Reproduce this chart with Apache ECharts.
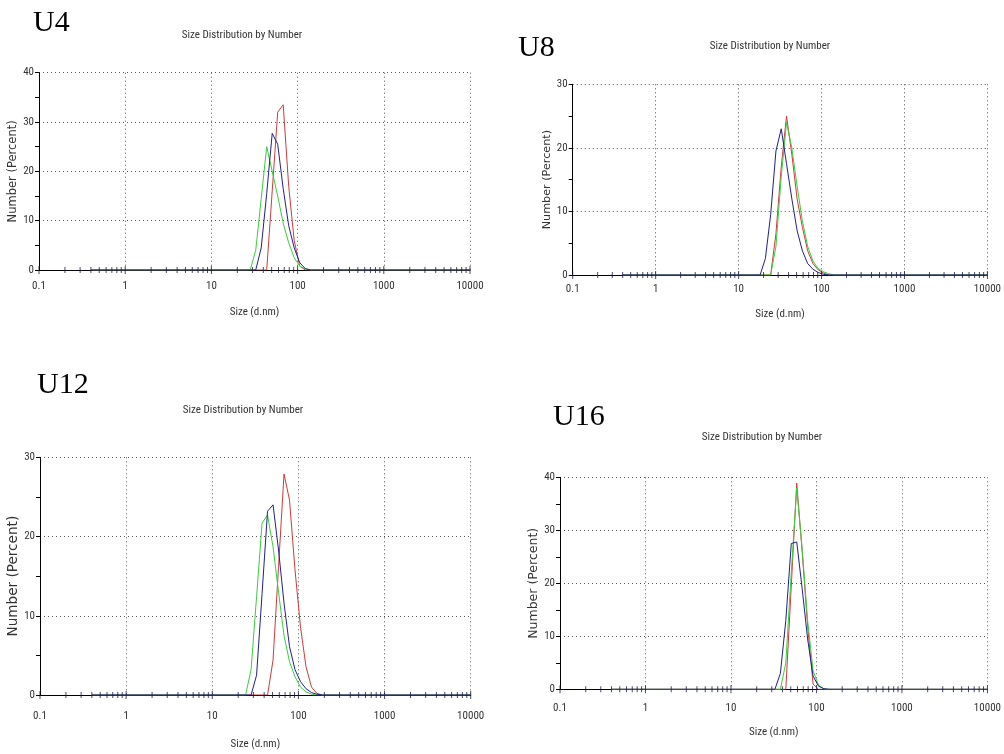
<!DOCTYPE html>
<html>
<head>
<meta charset="utf-8">
<script src="https://cdn.jsdelivr.net/npm/echarts@6/dist/echarts.min.js"></script>
<style>html,body{margin:0;padding:0;background:#fff}#c{width:1004px;height:754px}</style>
</head>
<body>
<div id="c"></div>
<script>
// ---------- DATA ----------
const sizeClasses = [0.4, 18.17, 21.04, 24.36, 28.21, 32.67, 37.84, 43.82, 50.75, 58.77, 68.06, 78.82, 91.28, 105.7, 122.4, 141.8, 164.2, 190.1, 10000];

const u4Red   = [0, 0, 0, 0, 0, 0, 0, 0, 16, 32, 33.5, 17, 6, 0.8, 0, 0, 0, 0, 0];
const u4Green = [0, 0, 0, 0, 0, 4, 14.5, 25, 20, 15, 9.5, 5.5, 2.5, 0.8, 0.2, 0, 0, 0, 0];
const u4Blue  = [0, 0, 0, 0, 0, 0, 4.5, 15.5, 27.7, 25.5, 16.5, 9, 4.5, 1.5, 0.3, 0, 0, 0, 0];

const u8Red   = [0, 0, 0, 0, 6.5, 17, 25, 19, 12, 7.5, 3.8, 1.8, 0.8, 0.3, 0, 0, 0, 0, 0];
const u8Green = [0, 0, 0, 0, 4.5, 15.5, 24, 20, 14, 8.5, 4.5, 2.2, 1.0, 0.5, 0.2, 0, 0, 0, 0];
const u8Blue  = [0, 0, 2.6, 9.5, 19.5, 23, 17.5, 12, 7, 3.8, 1.8, 0.9, 0.4, 0.1, 0, 0, 0, 0, 0];

const u12Red   = [0, 0, 0, 0, 0, 0, 0, 0, 4.4, 16.2, 27.9, 24.6, 15.8, 8.6, 3.6, 1.0, 0.2, 0, 0];
const u12Green = [0, 0, 0, 0, 3.2, 12.4, 21.7, 22.7, 18.7, 13, 7.5, 4.2, 2.3, 1.0, 0.4, 0.1, 0, 0, 0];
const u12Blue  = [0, 0, 0, 0, 0, 2.5, 12.8, 23.2, 24, 18.3, 11.6, 6.1, 3.2, 1.7, 0.8, 0.3, 0.1, 0, 0];

const u16Red   = [0, 0, 0, 0, 0, 0, 0, 0, 19.5, 38.9, 26, 12, 1, 0, 0, 0, 0, 0, 0];
const u16Green = [0, 0, 0, 0, 0, 0, 0, 5, 22, 38, 26.5, 13, 3.5, 0.8, 0.1, 0, 0, 0, 0];
const u16Blue  = [0, 0, 0, 0, 0, 0, 3, 13, 27.5, 27.8, 19, 9.5, 2.5, 0.6, 0.1, 0, 0, 0, 0];

const panelLabels = ['U4', 'U8', 'U12', 'U16'];
const chartTitle = 'Size Distribution by Number';
const xAxisName = 'Size (d.nm)';
const yAxisName = 'Number (Percent)';
const xTickLabels = ['0.1', '1', '10', '100', '1000', '10000'];
const yMaxValues = [40, 30, 30, 40];
const decadeTicks = [0.1, 1, 10, 100, 1000, 10000];
const minorMultipliers = [2, 3, 4, 5, 6, 7, 8, 9];

// ---------- LAYOUT / STYLE ----------
const panelSeries = [
  [u4Red, u4Green, u4Blue],
  [u8Red, u8Green, u8Blue],
  [u12Red, u12Green, u12Blue],
  [u16Red, u16Green, u16Blue]
];
const lineColors = ['#cc3b3b', '#3ccc3c', '#20208c'];
const layout = [
  {left: 39,    top: 72.7,  width: 431,   height: 197.3, lm: 11, xg: 36.5, yg: 19.2, yfs: 11.5, lab: [33, 23],  tit: [242, 35]},
  {left: 572.7, top: 84.3,  width: 419,   height: 190.7, lm: 9,  xg: 33.5, yg: 18,   yfs: 11.2, lab: [518, 48], tit: [770, 46.7]},
  {left: 40,    top: 457.3, width: 430.7, height: 237.7, lm: 16, xg: 44,   yg: 18,   yfs: 13.6, lab: [37, 385], tit: [243, 410.7]},
  {left: 560,   top: 477.3, width: 429,   height: 212,   lm: 13, xg: 37,   yg: 16.8, yfs: 12.5, lab: [553, 417], tit: [762, 437.3]}
];
const narrow = "'Liberation Sans Narrow', 'Roboto Condensed', 'DejaVu Sans Condensed', sans-serif";
const dotted = [1, 3];

const grids = [], xAxes = [], yAxes = [], series = [], graphics = [];

const tickPositions = [];
decadeTicks.forEach((d, i) => {
  tickPositions.push({value: [d, 0], big: true});
  if (i < decadeTicks.length - 1) minorMultipliers.forEach(m => tickPositions.push({value: [d * m, 0], big: false}));
});

layout.forEach((L, p) => {
  grids.push({left: L.left, top: L.top, width: L.width, height: L.height, containLabel: false});
  xAxes.push({
    type: 'log', logBase: 10, min: 0.1, max: 10000, gridIndex: p,
    name: xAxisName, nameLocation: 'middle', nameGap: L.xg,
    nameTextStyle: {fontFamily: narrow, fontSize: 11, color: '#333'},
    axisLine: {show: true, onZero: false, lineStyle: {color: '#000', width: 1}},
    axisTick: {show: false},
    axisLabel: {
      fontFamily: narrow, fontSize: 11, color: '#333', margin: L.lm, showMinLabel: true, showMaxLabel: true,
      formatter: v => xTickLabels[Math.round(Math.log10(v)) + 1] || ''
    },
    splitLine: {show: true, lineStyle: {color: '#555', width: 1, type: dotted}},
    minorTick: {show: false}, minorSplitLine: {show: false}
  });
  yAxes.push({
    type: 'value', min: 0, max: yMaxValues[p], interval: 10, gridIndex: p,
    name: yAxisName, nameLocation: 'middle', nameGap: L.yg,
    nameTextStyle: {fontFamily: "'DejaVu Sans', sans-serif", fontSize: L.yfs, color: '#333'},
    axisLine: {show: true, lineStyle: {color: '#000', width: 1}},
    axisTick: {show: true, length: 4, lineStyle: {color: '#000'}},
    minorTick: {show: true, splitNumber: 2, length: 4, lineStyle: {color: '#000'}},
    axisLabel: {fontFamily: narrow, fontSize: 11, color: '#333', margin: 5},
    splitLine: {show: true, lineStyle: {color: '#555', width: 1, type: dotted}}
  });
  panelSeries[p].forEach((vals, k) => {
    series.push({
      type: 'line', xAxisIndex: p, yAxisIndex: p, symbol: 'none', silent: true,
      lineStyle: {color: lineColors[k], width: 1}, itemStyle: {color: lineColors[k]},
      z: 3 + k,
      data: sizeClasses.map((s, i) => [s, vals[i]])
    });
  });
  series.push({
    type: 'scatter', xAxisIndex: p, yAxisIndex: p, silent: true, z: 10,
    symbol: 'rect',
    data: tickPositions.map(t => ({value: t.value, symbolSize: t.big ? [1, 8] : [1, 6]})),
    itemStyle: {color: '#1a1a4a'}
  });
  graphics.push({
    type: 'text', silent: true,
    style: {text: panelLabels[p], x: L.lab[0], y: L.lab[1], font: "30px 'Liberation Serif', 'Times New Roman', serif",
      fill: '#000', align: 'left', textAlign: 'left', verticalAlign: 'middle', textVerticalAlign: 'middle'}
  });
  graphics.push({
    type: 'text', silent: true,
    style: {text: chartTitle, x: L.tit[0], y: L.tit[1], font: "11px " + narrow,
      fill: '#333', align: 'center', textAlign: 'center', verticalAlign: 'middle', textVerticalAlign: 'middle'}
  });
});

const chart = echarts.init(document.getElementById('c'), null, {renderer: 'canvas'});
chart.setOption({
  animation: false,
  backgroundColor: '#fff',
  grid: grids, xAxis: xAxes, yAxis: yAxes, series: series,
  graphic: {elements: graphics}
});
</script>
</body>
</html>
